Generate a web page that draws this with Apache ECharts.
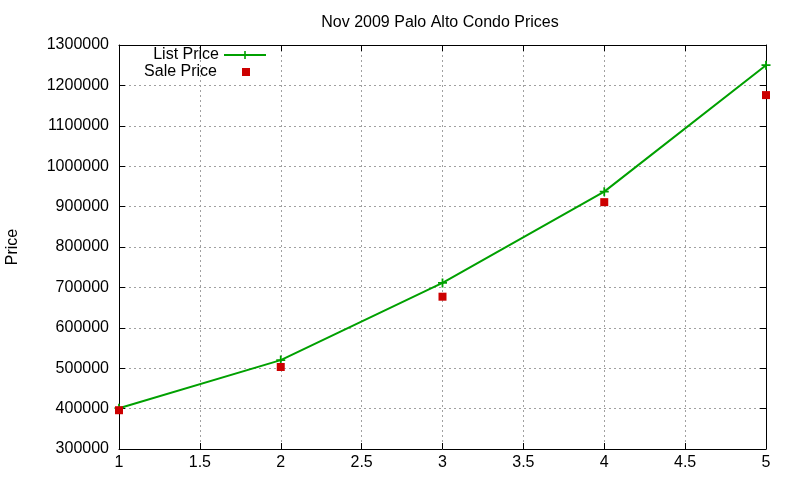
<!DOCTYPE html>
<html>
<head>
<meta charset="utf-8">
<script src="https://cdn.jsdelivr.net/npm/echarts@6/dist/echarts.min.js"></script>
<style>
  html, body { margin: 0; padding: 0; background: #fff; }
  #main { width: 800px; height: 480px; }
</style>
</head>
<body>
<div id="main"></div>
<script>
// data
const units = [1, 2, 3, 4, 5];
const listPrice = [401000, 520000, 711000, 937000, 1250000];
const salePrice = [396000, 503000, 677000, 911000, 1176000];
const yTicks = { min: 300000, max: 1300000, step: 100000 };
const xTicks = { min: 1, max: 5, step: 0.5 };

const font = "Liberation Sans, Arial, sans-serif";
const fs = 16;
const plus = "path://M4,0H6V4H10V6H6V10H4V6H0V4H4Z";

const chartDom = document.getElementById("main");
const myChart = echarts.init(chartDom);

const gridDash = { color: "#a0a0a0", type: [2, 3], width: 1 };

// mirrored axes give the closed frame with inward ticks
const mirrorAxis = (pos, t) => ({
  type: "value",
  position: pos,
  min: t.min,
  max: t.max,
  interval: t.step,
  axisLine: { show: true, lineStyle: { color: "#000", width: 1 } },
  axisTick: { show: true, inside: true, length: 6, lineStyle: { color: "#000" } },
  axisLabel: { show: false },
  splitLine: { show: false },
});

const option = {
  animation: false,
  backgroundColor: "#fff",
  textStyle: { fontFamily: font },
  title: {
    text: "Nov 2009 Palo Alto Condo Prices",
    left: 435,
    textAlign: "center",
    top: 10,
    textStyle: { fontSize: fs, fontWeight: "normal", color: "#000", fontFamily: font },
  },
  legend: [
    {
      data: ["List Price"],
      orient: "vertical",
      align: "right",
      right: 533,
      top: 47,
      padding: 0,
      itemWidth: 42,
      itemHeight: 10,
      textStyle: { fontSize: fs, color: "#000", fontFamily: font },
    },
    {
      data: ["Sale Price"],
      orient: "vertical",
      align: "right",
      right: 550,
      top: 64,
      padding: 0,
      itemWidth: 8,
      itemHeight: 8,
      textStyle: { fontSize: fs, color: "#000", fontFamily: font, padding: [0, 20, 0, 0] },
    },
  ],
  grid: { left: 119, right: 34, top: 45, bottom: 31, outerBoundsMode: "none", containLabel: false },
  xAxis: [
    {
      type: "value",
      position: "bottom",
      min: xTicks.min,
      max: xTicks.max,
      interval: xTicks.step,
      axisLine: { show: true, lineStyle: { color: "#000", width: 1 } },
      axisTick: { show: true, inside: true, length: 6, lineStyle: { color: "#000" } },
      axisLabel: { color: "#000", fontSize: fs, margin: 6, fontFamily: font },
      splitLine: { show: true, lineStyle: gridDash },
    },
    mirrorAxis("top", xTicks),
  ],
  yAxis: [
    {
      type: "value",
      position: "left",
      min: yTicks.min,
      max: yTicks.max,
      interval: yTicks.step,
      name: "Price",
      nameLocation: "middle",
      nameGap: 98,
      nameTextStyle: { color: "#000", fontSize: fs, fontFamily: font },
      axisLine: { show: true, lineStyle: { color: "#000", width: 1 } },
      axisTick: { show: true, inside: true, length: 6, lineStyle: { color: "#000" } },
      axisLabel: { color: "#000", fontSize: fs, margin: 10, fontFamily: font, formatter: (v) => String(v) },
      splitLine: { show: true, lineStyle: gridDash },
    },
    mirrorAxis("right", yTicks),
  ],
  series: [
    {
      name: "List Price",
      type: "line",
      data: units.map((u, i) => [u, listPrice[i]]),
      symbol: plus,
      symbolSize: 9,
      showAllSymbol: true,
      color: "#00a000",
      lineStyle: { color: "#00a000", width: 2 },
      itemStyle: { color: "#00a000" },
      z: 3,
    },
    {
      name: "Sale Price",
      type: "scatter",
      data: units.map((u, i) => [u, salePrice[i]]),
      symbol: "rect",
      symbolSize: 8,
      color: "#cc0000",
      itemStyle: { color: "#cc0000", opacity: 1 },
      z: 4,
    },
  ],
};

option && myChart.setOption(option);
</script>
</body>
</html>
